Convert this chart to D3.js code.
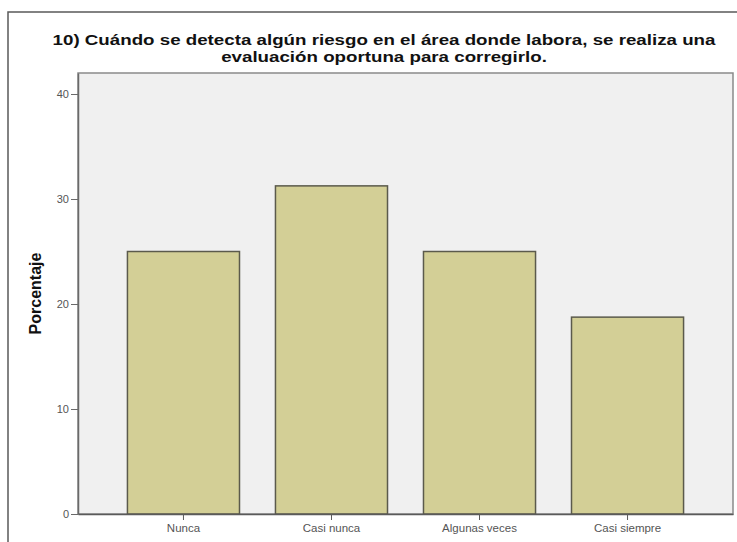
<!DOCTYPE html>
<html><head><meta charset="utf-8">
<script src="https://cdn.jsdelivr.net/npm/d3@7"></script>
<style>body{margin:0;background:#fff}svg{display:block}</style>
</head><body>
<script>
const categories = ["Nunca", "Casi nunca", "Algunas veces", "Casi siempre"];
const values = [25, 31.25, 25, 18.75];
const yTicks = [0, 10, 20, 30, 40];
const titleLines = ["10) Cuándo se detecta algún riesgo en el área donde labora, se realiza una", "evaluación oportuna para corregirlo."];
const yLabel = "Porcentaje";

const W = 737, H = 542;
const FONT = "Liberation Sans, Arial, sans-serif";
const svg = d3.select("body").append("svg").attr("width", W).attr("height", H);
const plot = {left: 78, right: 733, top: 73, bottom: 514};

// outer frame
svg.append("rect").attr("x", 8).attr("y", 12).attr("width", 740).attr("height", 560)
  .attr("fill", "#fff").attr("stroke", "#5a5a5a").attr("stroke-width", 1.5);

const x = d3.scaleBand().domain(categories).range([plot.left, plot.right])
  .paddingInner(0.243).paddingOuter(0.334);
const y = d3.scaleLinear().domain([0, 42]).range([plot.bottom, plot.top]);

svg.append("rect").attr("x", plot.left).attr("y", plot.top)
  .attr("width", plot.right - plot.left).attr("height", plot.bottom - plot.top)
  .attr("fill", "#f0f0f0").attr("stroke", "#8a8a8a").attr("stroke-width", 1.5);

svg.selectAll("rect.bar").data(values).enter().append("rect").attr("class", "bar")
  .attr("x", (d, i) => x(categories[i])).attr("width", x.bandwidth())
  .attr("y", d => y(d)).attr("height", d => y(0) - y(d))
  .attr("fill", "#d3cf96").attr("stroke", "#5b5a4c").attr("stroke-width", 1.5);

const yAxis = svg.append("g").attr("transform", `translate(${plot.left},0)`)
  .call(d3.axisLeft(y).tickValues(yTicks).tickSizeInner(7).tickSizeOuter(0).tickPadding(2).tickFormat(d3.format("d")));
yAxis.select(".domain").attr("stroke", "#6a6a6a").attr("stroke-width", 1.5);
yAxis.selectAll(".tick line").attr("stroke", "#6a6a6a");
yAxis.selectAll(".tick text").attr("fill", "#555").style("font-family", FONT).style("font-size", "11px");

const xAxis = svg.append("g").attr("transform", `translate(0,${plot.bottom})`)
  .call(d3.axisBottom(x).tickSizeInner(6).tickSizeOuter(0).tickPadding(4));
xAxis.select(".domain").attr("stroke", "#5a5a5a").attr("stroke-width", 1.5);
xAxis.selectAll(".tick text").attr("fill", "#555").style("font-family", FONT).style("font-size", "11.5px");
xAxis.selectAll(".tick line").attr("stroke", "#5a5a5a");

// title: horizontally stretched like the reference rendering
const titleG = svg.append("g").style("font-family", FONT)
  .style("font-weight", "bold").style("font-size", "14.8px").attr("fill", "#111");
const tNodes = titleLines.map((t, i) =>
  titleG.append("text").attr("x", 0).attr("y", 45 + i * 17).attr("text-anchor", "middle").text(t));
const w1 = tNodes[0].node().getComputedTextLength();
const sx = 663 / w1;
titleG.attr("transform", `translate(384,0) scale(${sx},1)`);

svg.append("text").attr("transform", `translate(41,${(plot.top + plot.bottom) / 2}) rotate(-90)`)
  .attr("text-anchor", "middle").style("font-family", FONT)
  .style("font-weight", "bold").style("font-size", "16px").attr("fill", "#111").text(yLabel);
</script>
</body></html>
